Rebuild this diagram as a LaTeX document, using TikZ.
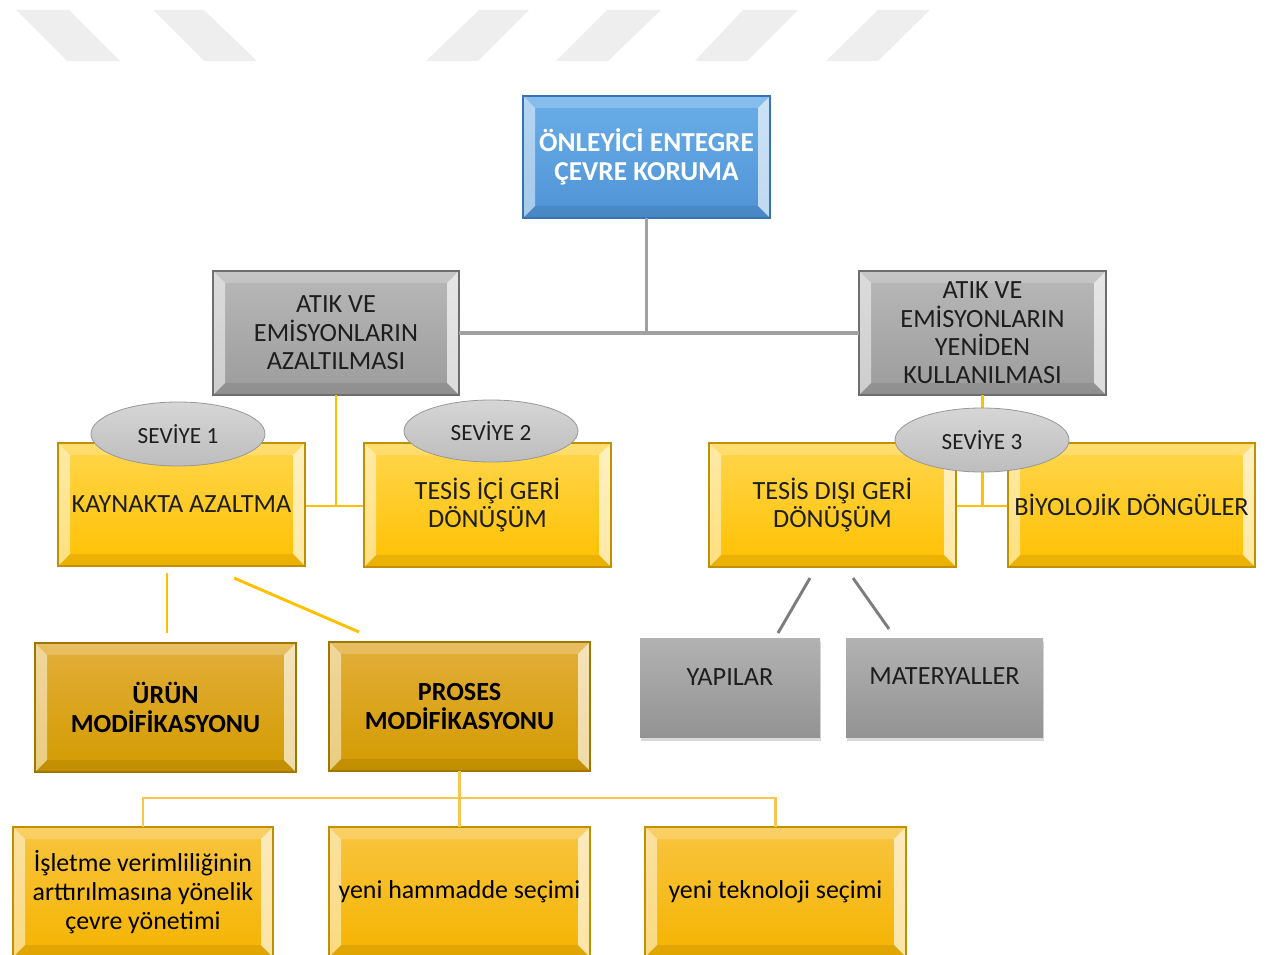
\documentclass[tikz,border=0pt]{standalone}
\usepackage{fontspec}
\setmainfont{Carlito}
\usetikzlibrary{shadows,shapes.geometric}

\definecolor{skyA}{HTML}{6AAEE8}
\definecolor{skyB}{HTML}{4F93D6}
\definecolor{skyLine}{HTML}{3573B5}
\definecolor{greyA}{HTML}{B8B8B8}
\definecolor{greyB}{HTML}{9C9C9C}
\definecolor{greyLine}{HTML}{6E6E6E}
\definecolor{sunA}{HTML}{FFD64D}
\definecolor{sunB}{HTML}{FFC000}
\definecolor{sunLine}{HTML}{BF9000}
\definecolor{goldA}{HTML}{E2AE3A}
\definecolor{goldB}{HTML}{D39B00}
\definecolor{goldLine}{HTML}{9E7600}
\definecolor{ambA}{HTML}{F8C441}
\definecolor{ambB}{HTML}{F5B400}
\definecolor{ovalA}{HTML}{D6D6D6}
\definecolor{ovalB}{HTML}{BDBDBD}
\definecolor{flatA}{HTML}{B2B2B2}
\definecolor{flatB}{HTML}{939393}
\definecolor{ink}{HTML}{1E1E1E}
\definecolor{busline}{HTML}{F7C64E}
\definecolor{stripe}{HTML}{EEEEEE}

\tikzset{
  sz/.style 2 args={minimum width=#1*0.75pt, minimum height=#2*0.75pt},
  bevel/.style={path picture={
    \fill[white,opacity=.5] (path picture bounding box.south west) -- (path picture bounding box.north west)
      -- ([xshift=9pt,yshift=-9pt]path picture bounding box.north west) -- ([xshift=9pt,yshift=9pt]path picture bounding box.south west) -- cycle;
    \fill[white,opacity=.2] (path picture bounding box.north west) -- (path picture bounding box.north east)
      -- ([xshift=-9pt,yshift=-9pt]path picture bounding box.north east) -- ([xshift=9pt,yshift=-9pt]path picture bounding box.north west) -- cycle;
    \fill[white,opacity=.65] (path picture bounding box.north east) -- (path picture bounding box.south east)
      -- ([xshift=-9pt,yshift=9pt]path picture bounding box.south east) -- ([xshift=-9pt,yshift=-9pt]path picture bounding box.north east) -- cycle;
    \fill[black,opacity=.08] (path picture bounding box.south west) -- (path picture bounding box.south east)
      -- ([xshift=-9pt,yshift=9pt]path picture bounding box.south east) -- ([xshift=9pt,yshift=9pt]path picture bounding box.south west) -- cycle;
  }},
  basebox/.style={rectangle, inner sep=2pt, outer sep=0pt, align=center, line width=0.9pt,
    font=\fontsize{19.7}{21.3}\selectfont, text=ink},
  skybox/.style={basebox, bevel, top color=skyA, bottom color=skyB, draw=skyLine, text=white,
    font=\fontsize{20.5}{22}\selectfont\bfseries},
  greybox/.style={basebox, bevel, top color=greyA, bottom color=greyB, draw=greyLine},
  sunbox/.style={basebox, bevel, top color=sunA, bottom color=sunB, draw=sunLine},
  goldbox/.style={basebox, bevel, top color=goldA, bottom color=goldB, draw=goldLine,
    font=\fontsize{19.6}{21.5}\selectfont\bfseries, text=black},
  ambbox/.style={basebox, bevel, top color=ambA, bottom color=ambB, draw=sunLine, text=black,
    font=\fontsize{19.4}{21.6}\selectfont},
  flatbox/.style={basebox, top color=flatA, bottom color=flatB, draw=none,
    drop shadow={shadow xshift=0.8pt, shadow yshift=-3pt, opacity=.3}},
  oval/.style={ellipse, inner sep=0pt, outer sep=0pt, top color=ovalA, bottom color=ovalB,
    draw=ovalB!80!black, line width=0.6pt, text=ink, font=\fontsize{17.4}{19}\selectfont},
  greyconn/.style={draw=greyB!95!white, line width=2.4pt},
  sunconn/.style={draw=sunB, line width=2.2pt},
  darkconn/.style={draw=greyLine!90!white, line width=2.2pt},
  busconn/.style={draw=busline, line width=1.8pt},
}

\begin{document}
\begin{tikzpicture}[x=0.75pt, y=-0.75pt]
\useasboundingbox (0,0) rectangle (1266,955);

% faint diagonal stripes along the top edge
\begin{scope}[fill=stripe]
  \fill (16,10) -- (69,10) -- (120,61) -- (67,61) -- cycle;
  \fill (153,10) -- (204,10) -- (257,61) -- (204,61) -- cycle;
  \fill (479,10) -- (529,10) -- (478,61) -- (426,61) -- cycle;
  \fill (607,10) -- (661,10) -- (608,61) -- (556,61) -- cycle;
  \fill (743,10) -- (798,10) -- (747,61) -- (695,61) -- cycle;
  \fill (878,10) -- (930,10) -- (878,61) -- (826,61) -- cycle;
\end{scope}

% coordinates for the free-standing connector strokes
\coordinate (kaA1) at (167,573);
\coordinate (kaA2) at (167,633);
\coordinate (kaB1) at (234,578);
\coordinate (kaB2) at (359,632);
\coordinate (tdA1) at (810,578);
\coordinate (tdA2) at (778,633);
\coordinate (tdB1) at (853,578);
\coordinate (tdB2) at (889,629);
\coordinate (bus)  at (459.5,798);

% boxes
\node[skybox, sz={247}{122}] (top) at (646.5,157) {ÖNLEYİCİ ENTEGRE\\ÇEVRE KORUMA};
\node[greybox, sz={246}{124}] (gl) at (336,333) {ATIK VE\\EMİSYONLARIN\\AZALTILMASI};
\node[greybox, sz={247}{124}] (gr) at (982.5,333) {ATIK VE\\EMİSYONLARIN\\YENİDEN\\KULLANILMASI};

% connectors behind the lower boxes
\draw[greyconn] (top.south) -- (top.south |- gl.east);
\draw[greyconn] (gl.east) -- (gr.west);
\coordinate (kaE) at (305,506);
\coordinate (tiW) at (364,506);
\coordinate (tdE) at (956,506);
\coordinate (bdW) at (1008,506);
\draw[sunconn] (gl.south) -- (gl.south |- kaE);
\draw[sunconn] (kaE) -- (tiW);
\draw[sunconn] (gr.south) -- (gr.south |- tdE);
\draw[sunconn] (tdE) -- (bdW);

\node[sunbox, sz={247}{123}] (ka) at (181.5,504.5) {KAYNAKTA AZALTMA};
\node[sunbox, sz={247}{124}] (ti) at (487.5,505) {TESİS İÇİ GERİ\\DÖNÜŞÜM};
\node[sunbox, sz={247}{124}] (td) at (832.5,505) {TESİS DIŞI GERİ\\DÖNÜŞÜM};
\node[sunbox, sz={247}{124}] (bd) at (1131.5,505) {BİYOLOJİK DÖNGÜLER};

\node[oval, sz={174}{64}] (s1) at (178,434) {SEVİYE 1};
\node[oval, sz={174}{62}] (s2) at (491,431) {SEVİYE 2};
\node[oval, sz={174}{64}] (s3) at (982,440) {SEVİYE 3};

\draw[sunconn] (kaA1) -- (kaA2);
\draw[sunconn] (kaB1) -- (kaB2);
\draw[darkconn] (tdA1) -- (tdA2);
\draw[darkconn] (tdB1) -- (tdB2);

\node[goldbox, sz={261}{129}] (ur) at (165.5,707.5) {ÜRÜN\\MODİFİKASYONU};
\node[goldbox, sz={261}{129}] (pr) at (459.5,706.5) {PROSES\\MODİFİKASYONU};

\node[flatbox, sz={180}{99}] (yp) at (730,687.5) {\raisebox{15pt}{YAPILAR}};
\node[flatbox, sz={197}{99}] (mt) at (944.5,687.5) {\raisebox{17pt}{MATERYALLER}};

% bottom row
\node[ambbox, sz={260}{130}] (b1) at (143,892) {İşletme verimliliğinin\\arttırılmasına yönelik\\çevre yönetimi};
\node[ambbox, sz={261}{130}] (b2) at (459.5,892) {yeni hammadde seçimi};
\node[ambbox, sz={261}{130}] (b3) at (775.5,892) {yeni teknoloji seçimi};

\draw[busconn] (pr.south) -- (bus);
\draw[busconn] (b1.north) |- (bus) -| (b3.north);
\draw[busconn] (bus) -- (b2.north);
\end{tikzpicture}
\end{document}
